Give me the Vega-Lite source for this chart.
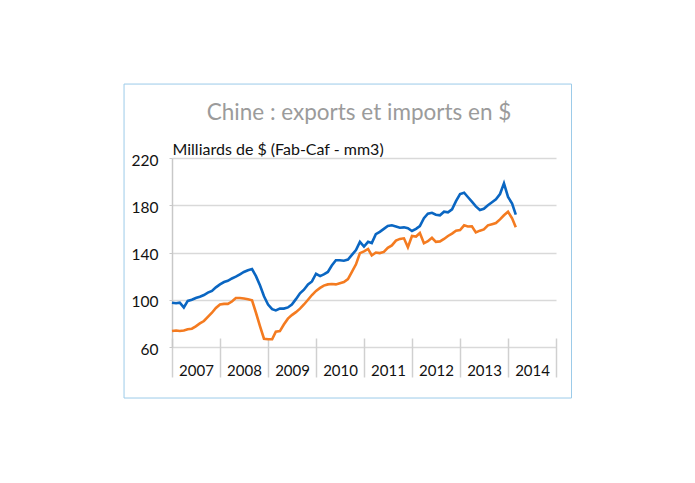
{
  "$schema": "https://vega.github.io/schema/vega-lite/v6.json",
  "width": 384,
  "height": 189,
  "autosize": "none",
  "padding": {"left": 172, "top": 158, "right": 139, "bottom": 136},
  "background": "white",
  "config": {"view": {"stroke": null}, "font": "Lato"},
  "title": {
    "text": "Chine : exports et imports en $",
    "fontSize": 22.5,
    "fontWeight": "normal",
    "color": "#9b9b9b",
    "anchor": "middle",
    "frame": "group",
    "baseline": "alphabetic",
    "offset": -59,
    "dx": -5
  },
  "datasets": {
    "cadre": [
      {"date": "2006-01-01", "date_fin": "2015-04-29", "value": 16.8, "value_fin": 282.6}
    ],
    "chine": [
      {"date": "2007-01-01", "exports": 97.5, "imports": 73.5},
      {"date": "2007-02-01", "exports": 97, "imports": 74},
      {"date": "2007-03-01", "exports": 97.5, "imports": 73.5},
      {"date": "2007-04-01", "exports": 93.5, "imports": 74},
      {"date": "2007-05-01", "exports": 99, "imports": 75},
      {"date": "2007-06-01", "exports": 100, "imports": 75.5},
      {"date": "2007-07-01", "exports": 101.5, "imports": 77.5},
      {"date": "2007-08-01", "exports": 102.5, "imports": 80},
      {"date": "2007-09-01", "exports": 104, "imports": 82},
      {"date": "2007-10-01", "exports": 106, "imports": 85.5},
      {"date": "2007-11-01", "exports": 107.5, "imports": 89},
      {"date": "2007-12-01", "exports": 110.5, "imports": 93},
      {"date": "2008-01-01", "exports": 113, "imports": 96},
      {"date": "2008-02-01", "exports": 115, "imports": 96.5},
      {"date": "2008-03-01", "exports": 116, "imports": 96.5},
      {"date": "2008-04-01", "exports": 118, "imports": 98.5},
      {"date": "2008-05-01", "exports": 119.5, "imports": 101.5},
      {"date": "2008-06-01", "exports": 121.5, "imports": 101.5},
      {"date": "2008-07-01", "exports": 123.5, "imports": 101},
      {"date": "2008-08-01", "exports": 125, "imports": 100.5},
      {"date": "2008-09-01", "exports": 126, "imports": 99.5},
      {"date": "2008-10-01", "exports": 120, "imports": 89},
      {"date": "2008-11-01", "exports": 112, "imports": 77.5},
      {"date": "2008-12-01", "exports": 103, "imports": 67},
      {"date": "2009-01-01", "exports": 96, "imports": 66.5},
      {"date": "2009-02-01", "exports": 92, "imports": 66.5},
      {"date": "2009-03-01", "exports": 91, "imports": 73},
      {"date": "2009-04-01", "exports": 92.5, "imports": 73.5},
      {"date": "2009-05-01", "exports": 92.5, "imports": 79},
      {"date": "2009-06-01", "exports": 93.5, "imports": 84},
      {"date": "2009-07-01", "exports": 96, "imports": 87},
      {"date": "2009-08-01", "exports": 100.5, "imports": 89.5},
      {"date": "2009-09-01", "exports": 105.5, "imports": 92.5},
      {"date": "2009-10-01", "exports": 108.5, "imports": 96},
      {"date": "2009-11-01", "exports": 113, "imports": 100},
      {"date": "2009-12-01", "exports": 115.5, "imports": 104},
      {"date": "2010-01-01", "exports": 122, "imports": 107.5},
      {"date": "2010-02-01", "exports": 120, "imports": 110},
      {"date": "2010-03-01", "exports": 121.5, "imports": 112},
      {"date": "2010-04-01", "exports": 123.5, "imports": 113},
      {"date": "2010-05-01", "exports": 129, "imports": 113.3},
      {"date": "2010-06-01", "exports": 133.5, "imports": 113},
      {"date": "2010-07-01", "exports": 133.5, "imports": 114},
      {"date": "2010-08-01", "exports": 133, "imports": 115},
      {"date": "2010-09-01", "exports": 134, "imports": 117.5},
      {"date": "2010-10-01", "exports": 138, "imports": 123.5},
      {"date": "2010-11-01", "exports": 142, "imports": 130},
      {"date": "2010-12-01", "exports": 149, "imports": 139.5},
      {"date": "2011-01-01", "exports": 145, "imports": 141},
      {"date": "2011-02-01", "exports": 149, "imports": 143},
      {"date": "2011-03-01", "exports": 148, "imports": 137.5},
      {"date": "2011-04-01", "exports": 155.5, "imports": 140},
      {"date": "2011-05-01", "exports": 157.5, "imports": 139.5},
      {"date": "2011-06-01", "exports": 160, "imports": 140.5},
      {"date": "2011-07-01", "exports": 162.5, "imports": 144},
      {"date": "2011-08-01", "exports": 163, "imports": 146},
      {"date": "2011-09-01", "exports": 162, "imports": 150},
      {"date": "2011-10-01", "exports": 161, "imports": 151.5},
      {"date": "2011-11-01", "exports": 161.3, "imports": 152},
      {"date": "2011-12-01", "exports": 160.5, "imports": 144.5},
      {"date": "2012-01-01", "exports": 158.2, "imports": 154},
      {"date": "2012-02-01", "exports": 160, "imports": 153.5},
      {"date": "2012-03-01", "exports": 162.4, "imports": 156.5},
      {"date": "2012-04-01", "exports": 169, "imports": 147.8},
      {"date": "2012-05-01", "exports": 172.8, "imports": 149.5},
      {"date": "2012-06-01", "exports": 173.6, "imports": 152.5},
      {"date": "2012-07-01", "exports": 172, "imports": 149},
      {"date": "2012-08-01", "exports": 171.5, "imports": 149.4},
      {"date": "2012-09-01", "exports": 174.5, "imports": 151.5},
      {"date": "2012-10-01", "exports": 174, "imports": 154},
      {"date": "2012-11-01", "exports": 176.5, "imports": 156},
      {"date": "2012-12-01", "exports": 183.5, "imports": 158.5},
      {"date": "2013-01-01", "exports": 189.5, "imports": 159},
      {"date": "2013-02-01", "exports": 190.6, "imports": 163},
      {"date": "2013-03-01", "exports": 187, "imports": 162},
      {"date": "2013-04-01", "exports": 183, "imports": 162.2},
      {"date": "2013-05-01", "exports": 179, "imports": 157},
      {"date": "2013-06-01", "exports": 176, "imports": 158.5},
      {"date": "2013-07-01", "exports": 177, "imports": 159.5},
      {"date": "2013-08-01", "exports": 180, "imports": 163},
      {"date": "2013-09-01", "exports": 182.5, "imports": 164},
      {"date": "2013-10-01", "exports": 185, "imports": 165},
      {"date": "2013-11-01", "exports": 189.5, "imports": 168},
      {"date": "2013-12-01", "exports": 198.5, "imports": 171.5},
      {"date": "2014-01-01", "exports": 187, "imports": 174.5},
      {"date": "2014-02-01", "exports": 181.5, "imports": 169},
      {"date": "2014-03-01", "exports": 172, "imports": 161.3}
    ]
  },
  "encoding": {
    "x": {
      "field": "date",
      "type": "temporal",
      "title": null,
      "scale": {
        "type": "utc",
        "domain": [{"year": 2007, "utc": true}, {"year": 2015, "utc": true}],
        "nice": false
      },
      "axis": {
        "offset": -9,
        "domain": false,
        "grid": false,
        "ticks": true,
        "tickSize": 39,
        "tickColor": "#d0d0d0",
        "tickWidth": 1.5,
        "values": [
          {"year": 2007, "utc": true}, {"year": 2008, "utc": true},
          {"year": 2009, "utc": true}, {"year": 2010, "utc": true},
          {"year": 2011, "utc": true}, {"year": 2012, "utc": true},
          {"year": 2013, "utc": true}, {"year": 2014, "utc": true},
          {"year": 2015, "utc": true}
        ],
        "format": "%Y",
        "labelExpr": "utcyear(datum.value) == 2015 ? '' : datum.label",
        "labelOffset": 24,
        "labelFlush": false,
        "labelOverlap": false,
        "labelAngle": 0,
        "labelBaseline": "middle",
        "labelPadding": -7,
        "labelFontSize": 15,
        "labelColor": "#111111"
      }
    },
    "y": {
      "field": "value",
      "type": "quantitative",
      "scale": {"domain": [60, 220], "nice": false, "zero": false},
      "axis": {
        "values": [60, 100, 140, 180, 220],
        "grid": true,
        "gridColor": "#d9d9d9",
        "gridWidth": 1.5,
        "domainColor": "#c8c8c8",
        "domainWidth": 1.5,
        "tickColor": "#c8c8c8",
        "tickSize": 3,
        "labelPadding": 11,
        "labelFontSize": 15.5,
        "labelColor": "#111111",
        "labelOffset": 2,
        "title": "Milliards de $ (Fab-Caf - mm3)",
        "titleAngle": 0,
        "titleAlign": "left",
        "titleBaseline": "alphabetic",
        "titleX": 0,
        "titleY": -4,
        "titleFontSize": 16,
        "titleFontWeight": "normal",
        "titleColor": "#111111"
      }
    }
  },
  "layer": [
    {
      "data": {"name": "cadre"},
      "mark": {"type": "rect", "filled": false, "color": "#9ccbe9", "strokeWidth": 1},
      "encoding": {
        "x2": {"field": "date_fin"},
        "y2": {"field": "value_fin"}
      }
    },
    {
      "data": {"name": "chine"},
      "transform": [{"fold": ["exports", "imports"], "as": ["serie", "value"]}],
      "mark": {"type": "line", "strokeWidth": 2.6},
      "encoding": {
        "color": {
          "field": "serie",
          "type": "nominal",
          "scale": {"domain": ["exports", "imports"], "range": ["#0a66c2", "#f47b20"]},
          "legend": null
        }
      }
    }
  ]
}
